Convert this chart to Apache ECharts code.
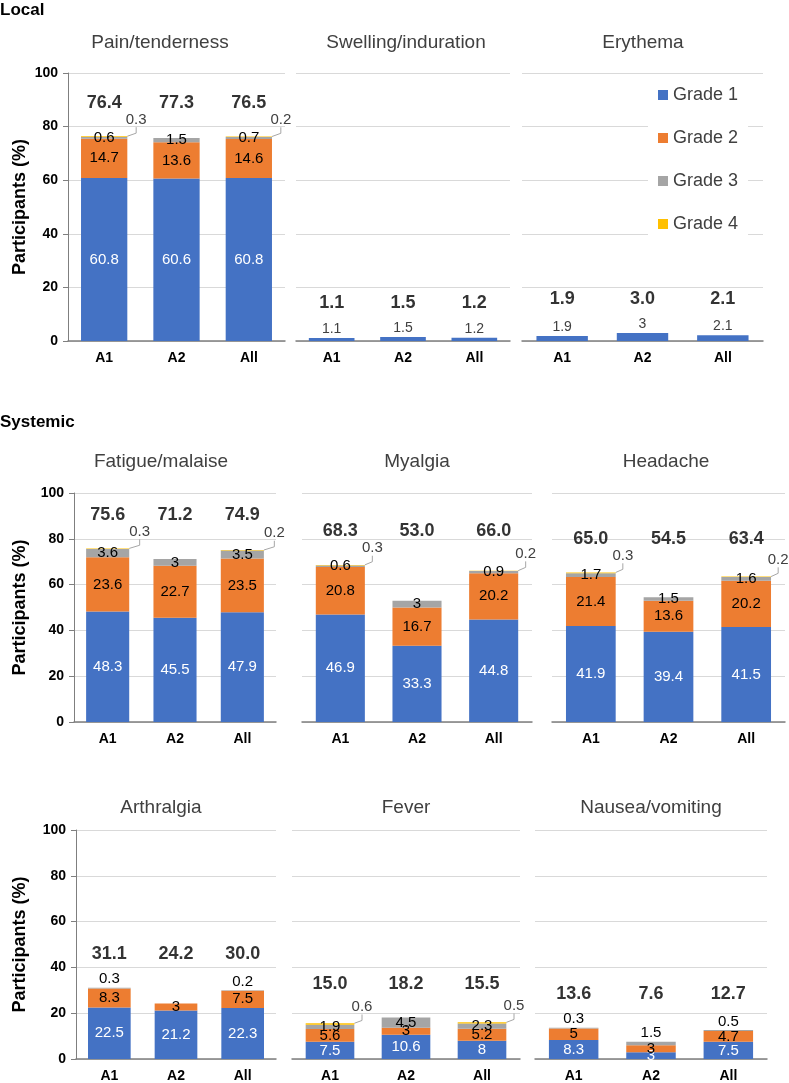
<!DOCTYPE html>
<html>
<head>
<meta charset="utf-8">
<script src="https://cdn.jsdelivr.net/npm/echarts@6/dist/echarts.min.js"></script>
<style>
  html, body { margin: 0; padding: 0; background: #fff; }
  #chart { width: 789px; height: 1083px; }
</style>
</head>
<body>
<div id="chart"></div>
<script>
// data (percent of participants)
var categories = ['A1', 'A2', 'All'];
var gradeNames = ['Grade 1', 'Grade 2', 'Grade 3', 'Grade 4'];
var panelNames = ['Pain/tenderness', 'Swelling/induration', 'Erythema',
    'Fatigue/malaise', 'Myalgia', 'Headache',
    'Arthralgia', 'Fever', 'Nausea/vomiting'];

var grade1 = [
    [60.8, 60.6, 60.8],
    [1.1, 1.5, 1.2],
    [1.9, 3, 2.1],
    [48.3, 45.5, 47.9],
    [46.9, 33.3, 44.8],
    [41.9, 39.4, 41.5],
    [22.5, 21.2, 22.3],
    [7.5, 10.6, 8],
    [8.3, 3, 7.5]
];
var grade2 = [
    [14.7, 13.6, 14.6],
    [0, 0, 0],
    [0, 0, 0],
    [23.6, 22.7, 23.5],
    [20.8, 16.7, 20.2],
    [21.4, 13.6, 20.2],
    [8.3, 3, 7.5],
    [5.6, 3, 5.2],
    [5, 3, 4.7]
];
var grade3 = [
    [0.6, 1.5, 0.7],
    [0, 0, 0],
    [0, 0, 0],
    [3.6, 3, 3.5],
    [0.6, 3, 0.9],
    [1.7, 1.5, 1.6],
    [0.3, 0, 0.2],
    [1.9, 4.5, 2.3],
    [0.3, 1.5, 0.5]
];
var grade4 = [
    [0.3, 0, 0.2],
    [0, 0, 0],
    [0, 0, 0],
    [0.3, 0, 0.2],
    [0.3, 0, 0.2],
    [0.3, 0, 0.2],
    [0, 0, 0],
    [0.6, 0, 0.5],
    [0, 0, 0]
];
var totals = [
    [76.4, 77.3, 76.5],
    [1.1, 1.5, 1.2],
    [1.9, 3.0, 2.1],
    [75.6, 71.2, 74.9],
    [68.3, 53.0, 66.0],
    [65.0, 54.5, 63.4],
    [31.1, 24.2, 30.0],
    [15.0, 18.2, 15.5],
    [13.6, 7.6, 12.7]
];

// layout (pixels)
var boxes = [
    {left: 68, top: 73, width: 217, height: 268, tx: 160, ty: 43, gap: 39},
    {left: 296, top: 73, width: 214, height: 268, tx: 406, ty: 43},
    {left: 522, top: 73, width: 241, height: 268, tx: 643, ty: 43},
    {left: 74, top: 493, width: 202, height: 229, tx: 161, ty: 462, gap: 45},
    {left: 302, top: 493, width: 230, height: 229, tx: 417, ty: 462},
    {left: 552, top: 493, width: 233, height: 229, tx: 666, ty: 462},
    {left: 76, top: 830, width: 200, height: 229, tx: 161, ty: 808, gap: 47},
    {left: 292, top: 830, width: 228, height: 229, tx: 406, ty: 808},
    {left: 535, top: 830, width: 232, height: 229, tx: 651, ty: 808}
];
var colors = ['#4472C4', '#ED7D31', '#A5A5A5', '#FFC000'];
var smallPanels = [1, 2];
var FONT = '"Liberation Sans", Arial, sans-serif';

var grades = [grade1, grade2, grade3, grade4];
var grids = [], xAxes = [], yAxes = [], series = [], graphics = [];

function fmt(v) { return String(v); }

boxes.forEach(function (b, p) {
    grids.push({left: b.left, top: b.top, width: b.width, height: b.height});
    var first = (b.gap !== undefined);
    xAxes.push({
        type: 'category', gridIndex: p, data: categories,
        axisLine: {lineStyle: {color: '#7f7f7f', width: 1.5}},
        axisTick: {show: false},
        axisLabel: {fontWeight: 'bold', fontSize: 14, color: '#000', margin: 10}
    });
    yAxes.push({
        type: 'value', gridIndex: p, min: 0, max: 100, interval: 20,
        name: first ? 'Participants (%)' : '',
        nameLocation: 'middle', nameGap: b.gap || 0,
        nameTextStyle: {fontWeight: 'bold', fontSize: 18, color: '#000'},
        axisLine: {show: first, lineStyle: {color: '#7f7f7f'}},
        axisTick: {show: first, length: 5, lineStyle: {color: '#7f7f7f'}},
        axisLabel: {show: first, fontWeight: 'bold', fontSize: 14, color: '#000', margin: 10},
        splitLine: {lineStyle: {color: '#d9d9d9'}}
    });
    graphics.push({
        type: 'text', x: b.tx, y: b.ty,
        style: {text: panelNames[p], fill: '#404040', font: '19px ' + FONT,
            textAlign: 'center', textVerticalAlign: 'middle'}
    });

    var hasG4 = grade4[p].some(function (v) { return v > 0; });
    var small = smallPanels.indexOf(p) >= 0;
    grades.forEach(function (arr, g) {
        var label = {show: true, fontSize: 15, color: '#000', formatter: function (d) { return fmt(d.value); }};
        var extra = {};
        if (g === 0) {
            if (small) {
                label.position = 'top'; label.distance = 2; label.color = '#404040'; label.fontSize = 14;
            } else {
                label.position = 'inside'; label.color = '#fff';
            }
        } else if (g === 1) {
            label.position = 'inside';
        } else if (g === 2) {
            label.position = hasG4 ? 'inside' : 'top';
            label.distance = 1;
        } else {
            label.position = 'inside';
            label.color = '#404040';
            extra.labelLayout = {dx: 32, dy: -17};
            extra.labelLine = {show: true, length2: 6, lineStyle: {color: '#a6a6a6', width: 1}};
        }
        series.push(Object.assign({
            type: 'bar', name: gradeNames[g], stack: 'p' + p,
            xAxisIndex: p, yAxisIndex: p, barWidth: '64%',
            itemStyle: {color: colors[g]},
            label: label,
            data: arr[p].map(function (v) { return v === 0 ? '-' : v; })
        }, extra));
    });

    // totals sit at one height per panel, above the tallest stack
    var top = 0;
    categories.forEach(function (c, i) {
        var s = grade1[p][i] + grade2[p][i] + grade3[p][i] + grade4[p][i];
        if (s > top) top = s;
    });
    series.push({
        type: 'scatter', xAxisIndex: p, yAxisIndex: p, symbolSize: 1,
        itemStyle: {color: 'rgba(0,0,0,0)'}, silent: true, z: 10,
        data: categories.map(function (c, i) { return [i, top]; }),
        label: {
            show: true, position: 'top', distance: 24,
            fontWeight: 'bold', fontSize: 18, color: '#000',
            formatter: function (d) { return totals[p][d.dataIndex].toFixed(1); }
        }
    });
});

graphics.push({type: 'text', x: 0, y: 10,
    style: {text: 'Local', fill: '#000', font: 'bold 17px ' + FONT, textVerticalAlign: 'middle'}});
graphics.push({type: 'text', x: 0, y: 422,
    style: {text: 'Systemic', fill: '#000', font: 'bold 17px ' + FONT, textVerticalAlign: 'middle'}});

var chart = echarts.init(document.getElementById('chart'));
chart.setOption({
    animation: false,
    textStyle: {fontFamily: FONT},
    grid: grids,
    xAxis: xAxes,
    yAxis: yAxes,
    graphic: graphics,
    legend: {
        orient: 'vertical', left: 648, top: 78,
        data: gradeNames, selectedMode: false,
        icon: 'rect', itemWidth: 10, itemHeight: 10, itemGap: 25,
        backgroundColor: '#fff', padding: [8, 10, 8, 10],
        textStyle: {fontSize: 18, color: '#404040'}
    },
    series: series
});
</script>
</body>
</html>
